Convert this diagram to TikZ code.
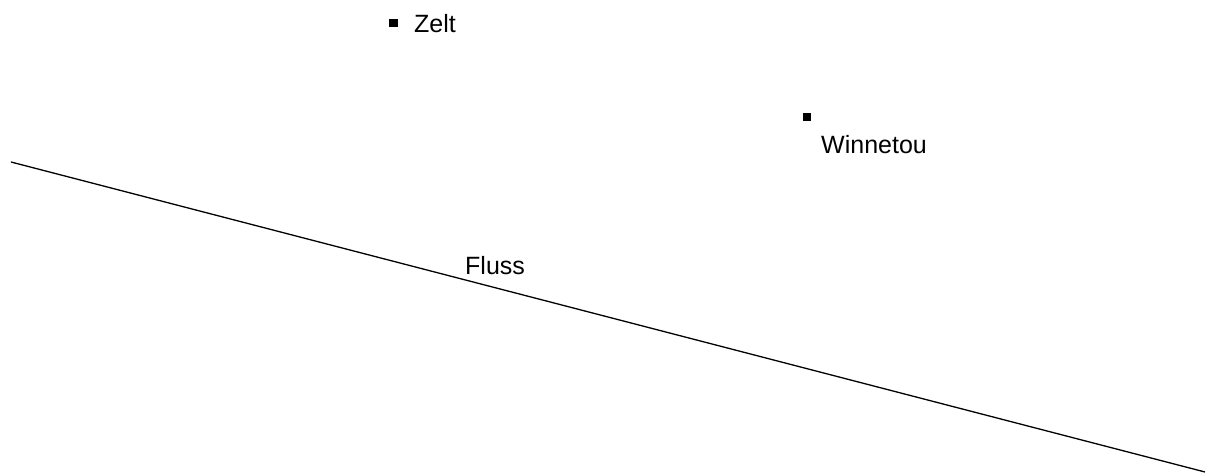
\documentclass[tikz,border=0pt]{standalone}
\usepackage{fontspec}
\setmainfont{Liberation Sans}
\begin{document}
\begin{tikzpicture}[x=1pt,y=-1pt,
  lbl/.style={anchor=base west,inner sep=0pt,font=\fontsize{25}{30}\selectfont},
  sqmark/.style={fill=black,minimum size=8.5pt,inner sep=0pt}]
\useasboundingbox (0,0) rectangle (1221,473);
\node[sqmark] (zs) at (393.5,23) {};
\node[lbl] (zelt) at (414,33) {Zelt};
\node[sqmark] (ws) at (807,117) {};
\node[lbl] (win) at (821,154) {Winnetou};
\coordinate (f1) at (11,162);
\coordinate (f2) at (1205,472);
\draw[line width=1.3pt] (f1) -- (f2);
\node[lbl] (fluss) at (465,274) {Fluss};
\end{tikzpicture}
\end{document}
